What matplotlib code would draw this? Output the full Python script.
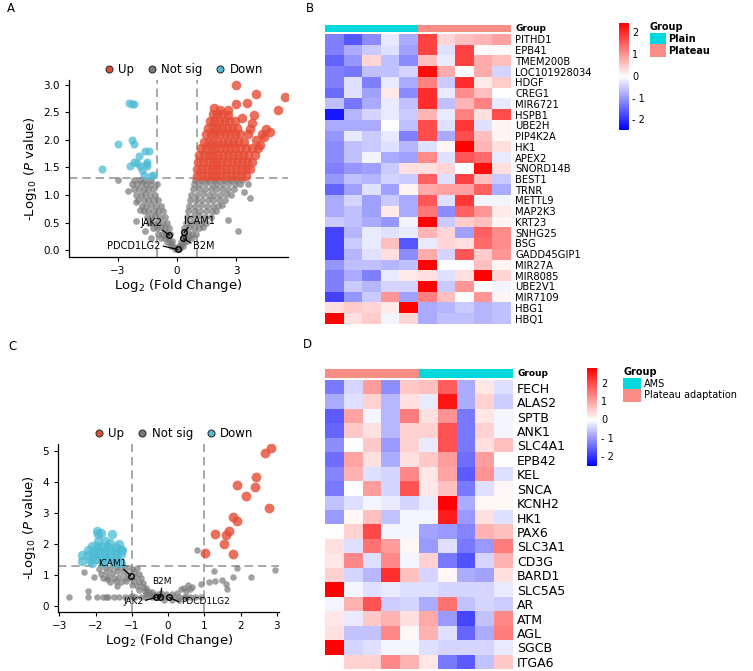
import matplotlib
matplotlib.use('Agg')
import matplotlib.pyplot as plt
from matplotlib.colors import LinearSegmentedColormap, Normalize, ListedColormap
from matplotlib.patches import Rectangle
from matplotlib.lines import Line2D
import numpy as np

plt.rcParams['font.family'] = ['DejaVu Sans']
plt.rcParams['mathtext.default'] = 'regular'

# ---------------- DATA ----------------
# Panel A volcano
a_gray = [(-0.1, 0.02), (0.0, 0.03), (0.1, 0.02), (0.15, 0.04),
          (-0.3, 0.08), (-0.2, 0.08), (0.1, 0.08), (0.2, 0.09), (0.3, 0.08),
          (-0.5, 0.15), (-0.35, 0.15), (-0.25, 0.16), (0.2, 0.15), (0.35, 0.15), (0.5, 0.16),
          (-0.8, 0.22), (-0.6, 0.22), (-0.45, 0.23), (0.3, 0.22), (0.45, 0.22), (0.6, 0.23), (0.75, 0.22),
          (-0.95, 0.3), (-0.75, 0.3), (-0.55, 0.31), (-0.35, 0.3), (0.35, 0.3), (0.55, 0.31), (0.75, 0.3), (0.95, 0.3),
          (-1.2, 0.4), (-1.0, 0.4), (-0.8, 0.41), (-0.6, 0.4), (-0.4, 0.4), (0.35, 0.4), (0.6, 0.41), (0.85, 0.4), (1.1, 0.4), (1.3, 0.41),
          (-1.4, 0.5), (-1.2, 0.5), (-0.95, 0.51), (-0.7, 0.5), (-0.5, 0.5), (0.45, 0.5), (0.7, 0.5), (0.95, 0.51), (1.2, 0.5), (1.45, 0.5),
          (-1.5, 0.6), (-1.3, 0.6), (-1.1, 0.61), (-0.85, 0.6), (-0.6, 0.6), (0.5, 0.6), (0.8, 0.6), (1.1, 0.61), (1.4, 0.6), (1.7, 0.6),
          (-1.7, 0.7), (-1.45, 0.7), (-1.2, 0.71), (-0.95, 0.7), (-0.7, 0.7), (0.55, 0.7), (0.85, 0.7), (1.15, 0.71), (1.45, 0.7), (1.75, 0.7), (2.0, 0.7),
          (-1.8, 0.8), (-1.55, 0.8), (-1.3, 0.81), (-1.05, 0.8), (-0.8, 0.8), (0.6, 0.8), (0.9, 0.8), (1.2, 0.81), (1.5, 0.8), (1.8, 0.8), (2.1, 0.8), (2.3, 0.81),
          (-2.0, 0.9), (-1.7, 0.9), (-1.45, 0.91), (-1.2, 0.9), (-0.95, 0.9), (0.65, 0.9), (0.95, 0.9), (1.25, 0.91), (1.55, 0.9), (1.85, 0.9), (2.15, 0.9), (2.45, 0.91),
          (-2.1, 1.0), (-1.85, 1.0), (-1.6, 1.01), (-1.35, 1.0), (-1.1, 1.0), (0.7, 1.0), (1.0, 1.0), (1.3, 1.01), (1.6, 1.0), (1.9, 1.0), (2.2, 1.0), (2.5, 1.01), (2.75, 1.0),
          (-2.2, 1.1), (-1.95, 1.1), (-1.7, 1.11), (-1.45, 1.1), (-1.2, 1.1), (0.8, 1.1), (1.1, 1.1), (1.4, 1.11), (1.7, 1.1), (2.0, 1.1), (2.3, 1.1), (2.6, 1.11), (2.9, 1.1),
          (-2.3, 1.2), (-2.05, 1.2), (-1.8, 1.21), (-1.55, 1.2), (-1.3, 1.2), (-1.0, 1.2), (0.85, 1.2), (1.15, 1.2), (1.45, 1.21), (1.75, 1.2), (2.05, 1.2), (2.35, 1.2), (2.65, 1.21), (2.95, 1.2), (3.2, 1.2),
          (-2.2, 1.27), (-1.9, 1.27), (-1.6, 1.28), (-1.3, 1.27), (0.9, 1.27), (1.2, 1.27), (1.5, 1.28), (1.8, 1.27), (2.1, 1.27), (2.4, 1.28), (2.7, 1.27), (3.0, 1.27), (3.3, 1.27),
          (-3.0, 1.28), (-2.5, 1.07), (-2.1, 0.88), (-1.9, 0.73), (-2.1, 0.52), (-1.3, 0.22), (-1.6, 0.35),
          (3.7, 0.95), (3.4, 1.05), (2.6, 0.55), (3.1, 0.35), (3.6, 1.2)]
a_red = [(1.0, 1.35), (1.25, 1.35), (1.5, 1.35), (1.75, 1.35), (2.0, 1.35), (2.25, 1.35), (2.5, 1.35), (2.75, 1.35), (3.0, 1.35), (3.25, 1.35), (3.5, 1.35),
         (1.0, 1.47), (1.25, 1.47), (1.5, 1.47), (1.75, 1.47), (2.0, 1.47), (2.25, 1.47), (2.5, 1.47), (2.75, 1.47), (3.0, 1.47), (3.25, 1.47), (3.5, 1.47), (3.7, 1.47),
         (1.05, 1.6), (1.3, 1.6), (1.55, 1.6), (1.8, 1.6), (2.05, 1.6), (2.3, 1.6), (2.55, 1.6), (2.8, 1.6), (3.05, 1.6), (3.3, 1.6), (3.55, 1.6), (3.8, 1.6),
         (1.1, 1.72), (1.35, 1.72), (1.6, 1.72), (1.85, 1.72), (2.1, 1.72), (2.35, 1.72), (2.6, 1.72), (2.85, 1.72), (3.1, 1.72), (3.35, 1.72), (3.6, 1.72), (3.95, 1.72),
         (1.2, 1.85), (1.45, 1.85), (1.7, 1.85), (1.95, 1.85), (2.2, 1.85), (2.45, 1.85), (2.7, 1.85), (2.95, 1.85), (3.2, 1.85), (3.5, 1.85), (3.8, 1.85), (4.1, 1.85),
         (1.35, 1.97), (1.6, 1.97), (1.85, 1.97), (2.1, 1.97), (2.35, 1.97), (2.6, 1.97), (2.85, 1.97), (3.1, 1.97), (3.4, 1.97), (4.0, 2.0),
         (1.45, 2.1), (1.7, 2.1), (1.95, 2.1), (2.2, 2.1), (2.45, 2.1), (2.7, 2.1), (2.95, 2.1), (3.2, 2.1), (3.6, 2.1),
         (1.55, 2.22), (1.8, 2.22), (2.05, 2.22), (2.3, 2.22), (2.55, 2.22), (2.8, 2.22), (3.05, 2.22),
         (1.65, 2.35), (1.9, 2.35), (2.15, 2.35), (2.4, 2.35), (2.65, 2.35), (2.95, 2.35),
         (1.8, 2.47), (2.05, 2.47), (2.3, 2.47), (2.6, 2.45), (1.9, 2.58), (2.2, 2.55),
         (3.0, 3.0), (4.0, 2.83), (5.5, 2.78), (3.55, 2.68), (3.0, 2.65), (5.1, 2.55), (3.9, 2.45), (2.6, 2.55),
         (3.7, 2.2), (4.5, 2.2), (4.7, 2.15), (4.3, 2.1), (4.2, 1.9), (3.3, 2.4), (4.4, 2.05), (3.8, 2.3)]
a_blue = [(-2.44, 2.67), (-2.3, 2.66), (-2.2, 2.65), (-2.3, 2.0), (-2.2, 1.93), (-3.0, 1.92), (-3.82, 1.48),
          (-1.6, 1.8), (-1.4, 1.8), (-1.93, 1.71), (-2.2, 1.6), (-2.4, 1.53), (-1.9, 1.53), (-1.55, 1.57),
          (-1.5, 1.53), (-1.8, 1.45), (-1.7, 1.37), (-1.3, 1.35), (-1.2, 1.36), (-1.5, 1.6), (-2.05, 1.58)]
a_genes = ['JAK2', 'ICAM1', 'B2M', 'PDCD1LG2']
a_gene_x = [-0.39, 0.37, 0.32, 0.03]
a_gene_y = [0.27, 0.32, 0.21, 0.01]

# Panel C volcano
c_gray = [(-1.9, 1.2), (-1.75, 1.25), (-1.6, 1.22), (-1.45, 1.25), (-1.3, 1.25), (-1.15, 1.22), (-1.0, 1.2), (-0.85, 1.22),
          (-1.85, 1.05), (-1.7, 1.1), (-1.55, 1.08), (-1.4, 1.12), (-1.25, 1.1), (-1.1, 1.05), (-0.95, 1.1), (-0.8, 1.05),
          (-1.8, 0.9), (-1.65, 0.95), (-1.5, 0.92), (-1.35, 0.95), (-1.2, 0.92), (-1.05, 0.9), (-0.9, 0.95), (-0.75, 0.9),
          (-1.6, 0.78), (-1.45, 0.8), (-1.3, 0.78), (-1.15, 0.8), (-0.95, 0.8), (-0.8, 0.78), (-0.7, 0.75),
          (-1.4, 0.65), (-1.0, 0.68), (-0.85, 0.65), (-0.7, 0.62), (-0.6, 0.6),
          (-0.8, 0.52), (-0.65, 0.5), (-0.55, 0.48), (-0.45, 0.45), (-0.5, 0.38), (-0.4, 0.36), (-0.3, 0.38), (-0.6, 0.4),
          (-1.95, 0.28), (-1.8, 0.28), (-1.65, 0.28), (-1.5, 0.28), (-1.35, 0.28), (-1.2, 0.28), (-1.05, 0.28), (-0.9, 0.28),
          (-0.75, 0.28), (-0.6, 0.28), (-0.45, 0.28), (-0.3, 0.28), (-0.15, 0.28), (0.0, 0.28), (0.15, 0.28), (0.3, 0.28),
          (0.45, 0.28), (0.6, 0.28), (0.75, 0.28), (0.9, 0.28), (-1.7, 0.3), (-1.0, 0.32), (-0.2, 0.32), (0.5, 0.3),
          (-0.2, 0.42), (-0.05, 0.38), (0.1, 0.4), (0.25, 0.42), (0.1, 0.2), (0.3, 0.2), (-0.1, 0.2),
          (0.35, 0.55), (0.45, 0.6), (0.55, 0.68), (0.6, 0.55), (0.5, 0.5), (0.65, 0.62),
          (-2.73, 0.28), (-2.2, 0.28), (-2.2, 0.5), (-2.32, 1.1), (-2.05, 0.95), (-1.68, 0.89),
          (0.81, 1.81), (1.27, 1.14), (1.13, 0.79), (1.3, 0.82), (1.6, 0.72), (1.62, 0.55), (1.8, 0.93),
          (1.9, 1.23), (2.3, 0.95), (2.95, 1.15), (0.9, 0.71), (1.5, 0.85)]
c_red = [(2.84, 5.09), (2.68, 4.93), (2.42, 4.17), (2.39, 3.85), (1.89, 3.92), (2.16, 3.56), (2.79, 3.18),
         (1.78, 2.88), (1.89, 2.74), (1.30, 2.34), (1.69, 2.42), (1.60, 2.29), (1.55, 2.0), (1.80, 1.67), (1.01, 1.72)]
c_blue = [(-1.97, 2.43), (-1.93, 2.34), (-1.54, 2.34), (-1.85, 2.35), (-1.93, 2.11), (-1.75, 2.1), (-1.6, 2.05),
          (-2.1, 1.95), (-1.95, 1.95), (-1.8, 1.92), (-1.65, 1.9), (-1.45, 1.92), (-2.2, 1.8), (-2.05, 1.78),
          (-1.9, 1.8), (-1.75, 1.78), (-1.6, 1.8), (-1.45, 1.78), (-1.3, 1.8), (-2.37, 1.65), (-2.2, 1.65),
          (-2.05, 1.65), (-1.9, 1.65), (-1.75, 1.65), (-1.6, 1.65), (-1.45, 1.65), (-1.3, 1.68), (-2.37, 1.45),
          (-2.15, 1.5), (-2.0, 1.52), (-1.85, 1.5), (-1.7, 1.52), (-1.55, 1.5), (-1.4, 1.5), (-1.3, 1.4),
          (-2.1, 1.38), (-1.8, 1.4), (-1.5, 1.38), (-1.26, 1.81), (-1.35, 2.0)]
c_genes = ['ICAM1', 'B2M', 'JAK2', 'PDCD1LG2']
c_gene_x = [-1.03, -0.21, -0.34, 0.03]
c_gene_y = [0.98, 0.28, 0.28, 0.28]

# Panel B heatmap
b_genes = ['PITHD1', 'EPB41', 'TMEM200B', 'LOC101928034', 'HDGF', 'CREG1', 'MIR6721', 'HSPB1', 'UBE2H',
           'PIP4K2A', 'HK1', 'APEX2', 'SNORD14B', 'BEST1', 'TRNR', 'METTL9', 'MAP2K3', 'KRT23', 'SNHG25',
           'BSG', 'GADD45GIP1', 'MIR27A', 'MIR8085', 'UBE2V1', 'MIR7109', 'HBG1', 'HBQ1']
b_values = [
    [-1.2, -1.6, -1.1, -0.2, -0.8, 1.8, 0.4, 0.6, 0.7, 0.9],
    [-1.2, -0.8, -0.5, -0.3, -0.9, 1.8, -0.3, 1.8, 0.05, 0.05],
    [-1.5, -1.0, 0.4, -0.6, -1.1, 0.6, -0.2, 1.8, 0.8, 0.6],
    [-1.2, -1.3, -0.6, -0.6, -0.4, 2.3, 0.8, 0.0, 0.8, -0.4],
    [-1.2, -0.3, -1.2, -0.2, -0.8, 1.2, -0.5, 2.0, 0.2, 0.5],
    [-1.4, -0.3, -0.9, 0.2, -1.1, 2.0, -0.2, 1.1, 0.6, 0.0],
    [-0.6, -1.3, -0.8, -0.2, -0.6, 2.0, -0.6, 0.7, 1.2, -0.2],
    [-2.2, -0.7, -0.4, -0.2, -0.5, 0.7, -0.2, 1.2, 0.3, 1.7],
    [-0.8, -0.8, -0.8, 0.0, -0.6, 1.7, -0.3, 1.9, -0.3, 0.1],
    [-1.0, -0.2, -0.5, -0.2, -1.2, 1.7, -0.8, 1.7, 0.6, 0.1],
    [-1.1, -0.6, -0.5, -0.3, -0.7, -0.3, 0.1, 2.4, 0.7, 0.3],
    [-1.1, -0.6, -0.1, -0.8, -0.9, 1.1, -0.3, 1.6, 1.4, -0.2],
    [-1.2, -1.0, -0.9, -0.5, 0.3, 0.3, 0.4, 0.0, 2.3, 0.3],
    [-1.0, -0.6, -0.7, -0.4, -0.5, 1.5, -0.3, 1.8, 0.6, -0.5],
    [-1.5, -0.9, -0.3, -0.9, 0.1, 0.8, 0.9, 0.9, 1.5, -0.8],
    [-0.8, -0.4, -0.9, -0.5, -0.8, 1.6, -0.3, 1.9, -0.1, -0.1],
    [-0.8, -0.6, -0.9, 0.2, -0.8, 1.3, -1.1, 1.5, 1.0, 0.2],
    [-0.5, -0.6, -0.8, -1.0, -0.1, 2.4, -0.5, 0.5, 0.6, 0.1],
    [-1.8, -0.7, -0.2, -0.3, -0.2, 0.7, 0.4, -0.9, 1.5, 1.1],
    [-1.8, -0.5, -0.2, 0.6, -1.6, -0.2, 0.4, 0.3, 1.4, 1.1],
    [-1.8, -0.7, -0.3, 0.3, -1.1, 0.8, -0.4, 1.6, 0.5, 1.0],
    [-1.0, -0.6, -0.6, -0.7, -0.6, 2.4, 0.0, 0.0, 0.6, 0.1],
    [-1.2, -0.8, -1.2, -0.2, 0.2, 0.3, -0.3, 0.3, 2.4, 0.4],
    [-1.2, -0.5, -0.7, -0.4, -0.4, 2.4, -0.5, 1.0, 0.0, -0.1],
    [-1.8, -1.0, -0.5, 1.0, -0.9, 1.2, 0.6, 0.0, 1.0, 0.1],
    [0.3, 0.5, 0.4, 0.2, 2.4, -0.8, -0.7, -0.5, -0.7, -0.6],
    [2.4, 0.3, 0.5, -0.1, 0.4, -0.8, -0.6, -0.6, -0.7, -0.6],
]
b_groups = ['Plain'] * 5 + ['Plateau'] * 5

# Panel D heatmap
d_genes = ['FECH', 'ALAS2', 'SPTB', 'ANK1', 'SLC4A1', 'EPB42', 'KEL', 'SNCA', 'KCNH2', 'HK1',
           'PAX6', 'SLC3A1', 'CD3G', 'BARD1', 'SLC5A5', 'AR', 'ATM', 'AGL', 'SGCB', 'ITGA6']
d_values = [
    [-1.3, -0.4, 1.1, -1.1, 0.6, 0.7, 1.8, -0.8, 0.25, -0.3],
    [-0.8, -0.3, 0.5, -0.7, 0.35, -0.2, 2.6, -0.8, 0.5, -0.5],
    [-1.6, 1.0, -0.1, -0.7, 1.45, 0.35, 1.2, -1.3, 0.25, -0.1],
    [-1.5, 0.6, 0.35, -0.7, 0.5, 0.5, 1.9, -1.3, 0.5, -0.1],
    [-1.1, 0.0, 0.6, -1.0, 0.5, -0.2, 1.9, -1.3, 0.35, 0.7],
    [-1.4, 1.0, 0.35, -0.8, 0.35, 0.6, 1.1, -1.4, 1.1, 0.0],
    [-1.2, 0.85, -0.3, -0.4, 1.3, 0.25, 1.0, -1.6, 1.2, -0.3],
    [-1.3, 0.0, 1.1, -0.4, 1.9, 0.25, 0.7, -1.3, -0.3, 0.1],
    [-0.6, -0.3, -0.1, -0.2, -0.4, -0.2, 2.8, -0.8, 0.1, 0.1],
    [-1.0, 0.1, 0.7, -0.6, -0.1, -0.1, 2.5, -1.0, 0.35, -0.3],
    [0.0, 0.5, 2.0, -0.1, -0.1, -0.9, -1.0, -1.2, 0.85, 0.7],
    [0.35, -0.3, 1.55, 1.1, 0.1, -1.0, -0.3, -1.3, -1.0, 1.45],
    [0.25, 1.3, -0.3, 1.3, -0.1, 0.5, -1.3, -1.7, -0.4, 0.85],
    [0.5, -0.4, -0.7, 2.3, 0.7, -0.4, 0.1, -0.8, -0.9, 0.35],
    [2.8, -0.1, -0.3, -0.2, -0.3, -0.3, -0.4, -0.4, -0.4, -0.2],
    [-0.1, 0.85, 1.9, -0.5, -0.4, -0.8, 1.55, -0.6, -0.4, -0.5],
    [0.25, -0.2, 0.6, 0.85, 0.35, 0.95, -1.0, -1.8, -0.6, 1.3],
    [0.35, -0.6, -0.6, 1.3, 0.1, 0.85, -0.3, -1.5, -0.8, 1.45],
    [2.8, -0.4, -0.3, -0.1, -0.1, -0.3, -0.4, -0.4, -0.4, -0.2],
    [0.0, 0.5, 0.5, 1.3, 0.85, 0.25, -1.3, -1.6, -0.6, 0.6],
]
d_groups = ['Plateau adaptation'] * 5 + ['AMS'] * 5

cbar_ticks = [2, 1, 0, -1, -2]
cbar_labels = ['2', '1', '0', '- 1', '- 2']

# ---------------- STYLE ----------------
RED = '#E64B35'
BLUE = '#4DBBD5'
GRAY = '#7A7A7A'
CYAN = '#00D8DE'
SALMON = '#FA8E86'
group_colors = {'Plain': CYAN, 'AMS': CYAN, 'Plateau': SALMON, 'Plateau adaptation': SALMON}

W, H = 753, 671
fig = plt.figure(figsize=(W / 100, H / 100), dpi=100)


def px_axes(l, t, r, b):
    return fig.add_axes([l / W, 1 - b / H, (r - l) / W, (b - t) / H])


def volcano(ax, gray, red, blue, sizes, gnames, gx, gy, lab_pos, seg_start, lab_fs):
    x, y = zip(*gray)
    ax.scatter(x, y, s=sizes[0], c=GRAY, alpha=0.7, linewidths=0, zorder=2)
    x, y = zip(*red)
    ax.scatter(x, y, s=sizes[1], c=RED, alpha=0.8, linewidths=0, zorder=3)
    x, y = zip(*blue)
    ax.scatter(x, y, s=sizes[2], c=BLUE, alpha=0.75, linewidths=0, zorder=3)
    dash = dict(color='#9a9a9a', lw=1.2, ls=(0, (5, 3)), zorder=1)
    ax.axvline(-1, **dash)
    ax.axvline(1, **dash)
    ax.axhline(1.301, **dash)
    for name, px, py, (tx, ty), (sx, sy) in zip(gnames, gx, gy, lab_pos, seg_start):
        ax.plot([sx, px], [sy, py], color='black', lw=0.9, zorder=5)
        ax.plot(px, py, 'o', mfc='none', mec='black', ms=4, mew=1, zorder=6)
        ax.text(tx, ty, name, fontsize=lab_fs, ha='center', va='center', zorder=7)
    for s in ['top', 'right']:
        ax.spines[s].set_visible(False)
    for s in ['left', 'bottom']:
        ax.spines[s].set_linewidth(0.9)
    ax.tick_params(direction='out', length=3, width=0.8, labelsize=7.5, colors='black')
    ax.set_xlabel('Log$_2$ (Fold Change)', fontsize=9.5, labelpad=1)
    ax.set_ylabel('-Log$_{10}$ ($\\it{P}$ value)', fontsize=9.5, labelpad=3)
    handles = [Line2D([], [], marker='o', ls='', mfc=c, mec='#333333', mew=0.8, ms=5, label=l)
               for c, l in [(RED, 'Up'), ('#7A7A7A', 'Not sig'), (BLUE, 'Down')]]
    ax.legend(handles=handles, loc='lower center', bbox_to_anchor=(0.52, 0.99), ncol=3,
              frameon=False, fontsize=8.5, handletextpad=0.3, columnspacing=1.0,
              borderaxespad=0.1, handlelength=1.0)


# Panel A
axA = px_axes(69, 80, 288, 257)
volcano(axA, a_gray, a_red, a_blue, (24, 48, 34), a_genes, a_gene_x, a_gene_y,
        [(-1.28, 0.5), (1.13, 0.53), (1.34, 0.07), (-2.2, 0.07)],
        [(-0.74, 0.36), (0.57, 0.41), (0.7, 0.13), (-0.69, 0.07)], 7)
axA.set_xlim(-5.48, 5.63)
axA.set_ylim(-0.127, 3.09)
axA.set_xticks([-3, 0, 3])
axA.set_yticks([0, 0.5, 1.0, 1.5, 2.0, 2.5, 3.0])
axA.set_yticklabels(['0.0', '0.5', '1.0', '1.5', '2.0', '2.5', '3.0'])

# Panel C
axC = px_axes(58.3, 444, 279.3, 612)
volcano(axC, c_gray, c_red, c_blue, (22, 50, 46), c_genes, c_gene_x, c_gene_y,
        [(-1.54, 1.38), (-0.16, 0.78), (-0.94, 0.14), (1.04, 0.14)],
        [(-1.22, 1.18), (-0.18, 0.57), (-0.62, 0.19), (0.30, 0.14)], 6.5)
axC.set_xlim(-3.03, 3.07)
axC.set_ylim(-0.19, 5.23)
axC.set_xticks([-3, -2, -1, 0, 1, 2, 3])
axC.set_yticks([0, 1, 2, 3, 4, 5])


def bwr_cmap(vmin, vmax):
    f = -vmin / (vmax - vmin)
    return LinearSegmentedColormap.from_list('bwr_c', [(0, '#0000FF'), (f, '#FFFFFF'), (1, '#FF0000')])


def heatmap(values, genes, groups, box, ann_box, fs, vmin, vmax, cbar_box, cbar_lab_x,
            legend_xy, legend_sq, legend_names, legend_bold, group_label_xy):
    cmap = bwr_cmap(vmin, vmax)
    norm = Normalize(vmin, vmax)
    ax = px_axes(*box)
    ax.imshow(np.array(values), cmap=cmap, norm=norm, aspect='auto', interpolation='nearest')
    ax.set_xticks([])
    ax.set_yticks(range(len(genes)))
    ax.set_yticklabels(genes, fontsize=fs)
    ax.yaxis.tick_right()
    ax.tick_params(axis='y', length=0, pad=3)
    for s in ax.spines.values():
        s.set_visible(False)
    # annotation bar
    axa = px_axes(*ann_box)
    cols = [group_colors[g] for g in groups]
    axa.imshow(np.arange(len(groups))[None, :], cmap=ListedColormap(cols), aspect='auto',
               interpolation='nearest')
    axa.set_xticks([])
    axa.set_yticks([])
    for s in axa.spines.values():
        s.set_visible(False)
    fig.text(group_label_xy[0] / W, 1 - group_label_xy[1] / H, 'Group', fontsize=6.5,
             fontweight='bold', va='center', ha='left')
    # colorbar
    axc = px_axes(*cbar_box)
    grad = np.linspace(vmax, vmin, 256)[:, None]
    axc.imshow(grad, cmap=cmap, norm=norm, aspect='auto', extent=[0, 1, vmin, vmax])
    axc.set_xticks([])
    axc.set_yticks([])
    for s in axc.spines.values():
        s.set_visible(False)
    t, b = cbar_box[1], cbar_box[3]
    for v, lab in zip(cbar_ticks, cbar_labels):
        ypx = t + (vmax - v) / (vmax - vmin) * (b - t)
        fig.text(cbar_lab_x / W, 1 - ypx / H, lab, fontsize=7, va='center', ha='left')
    # group legend
    lx, ly = legend_xy
    fig.text(lx / W, 1 - ly / H, 'Group', fontsize=7, fontweight='bold', va='center', ha='left')
    sx0, sx1, ys = legend_sq
    for i, name in enumerate(legend_names):
        y0, y1 = ys[i], ys[i + 1]
        fig.patches.append(Rectangle((sx0 / W, 1 - y1 / H), (sx1 - sx0) / W, (y1 - y0) / H,
                                     transform=fig.transFigure, facecolor=group_colors[name],
                                     edgecolor='none'))
        fig.text((sx1 + 2.5) / W, 1 - (y0 + y1) / 2 / H, name, fontsize=7,
                 fontweight='bold' if legend_bold else 'normal', va='center', ha='left')


heatmap(b_values, b_genes, b_groups, (325.3, 34, 511, 324), (325.3, 24.7, 511, 32.3), 7.2,
        -2.44, 2.45, (619, 23.3, 629, 130), 632,
        (650, 26.7), (650, 665.7, [33.3, 44.3, 57.3]), ['Plain', 'Plateau'], True, (515, 28.5))
heatmap(d_values, d_genes, d_groups, (325.3, 380.5, 513, 669), (325.3, 369.3, 513, 377.7), 9,
        -2.5, 2.83, (587, 368.3, 597, 466), 601,
        (623.3, 372.3), (623.3, 641, [378.3, 389.3, 401.7]), ['AMS', 'Plateau adaptation'], False,
        (517, 373.5))

# panel letters
for lab, x, y in [('A', 7, 8), ('B', 306, 8), ('C', 8, 347), ('D', 303, 345)]:
    fig.text(x / W, 1 - y / H, lab, fontsize=8.5, va='center', ha='left')

fig.savefig('out.png', dpi=100)
